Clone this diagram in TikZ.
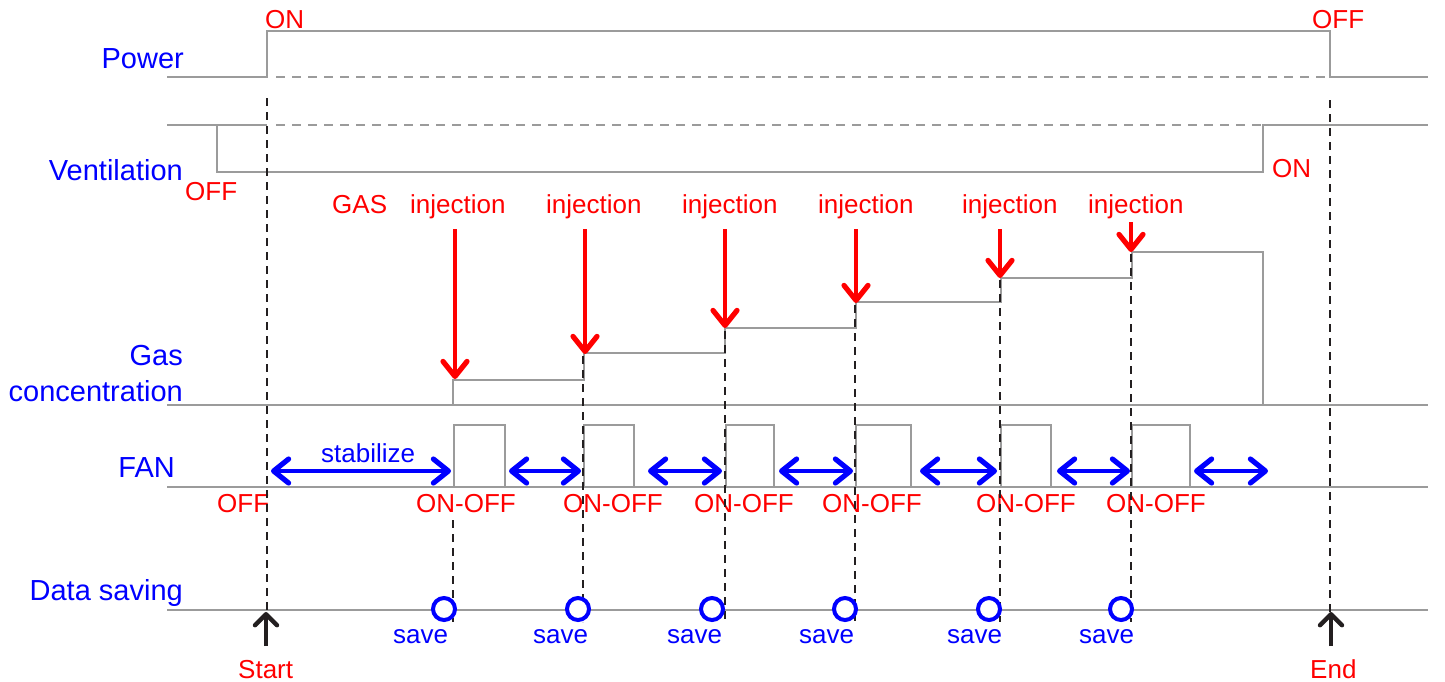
\documentclass[tikz,border=0pt]{standalone}
\usepackage{fontspec}
\setmainfont{Liberation Sans}
\usetikzlibrary{arrows.meta}
\definecolor{wave}{RGB}{155,155,155}
\definecolor{mark}{RGB}{35,31,32}
\definecolor{lblue}{RGB}{0,0,255}
\definecolor{lred}{RGB}{255,0,0}
\tikzset{
  wavel/.style={draw=wave,line width=2pt},
  wavedash/.style={draw=wave,line width=2pt,dash pattern=on 9pt off 7pt},
  guide/.style={draw=mark,line width=2pt,dash pattern=on 8pt off 6pt},
  bluelab/.style={text=lblue,inner sep=0pt,font=\fontsize{29}{34}\selectfont},
  redlab/.style={text=lred,inner sep=0pt,font=\fontsize{26}{30}\selectfont},
  savelab/.style={text=lblue,inner sep=0pt,font=\fontsize{26}{30}\selectfont},
  bigbarb/.tip={Straight Barb[length=15pt,width=24pt,line width=0pt 1.3,round]},
  injarrow/.style={draw=lred,line width=4pt,-bigbarb},
  gaparrow/.style={draw=lblue,line width=4pt,bigbarb-bigbarb},
  markarrow/.style={draw=mark,line width=4pt,-{Straight Barb[length=11pt,width=22pt,line width=0pt 1.1,round]}},
  savedot/.style={draw=lblue,line width=4pt,circle,minimum size=22pt,inner sep=0pt}
}
\begin{document}
\begin{tikzpicture}[x=1pt,y=-1pt]
\useasboundingbox (0,0) rectangle (1445,681);
% ---------- row labels ----------
\node[bluelab,anchor=base east] (lpow) at (184,68) {Power};
\node[bluelab,anchor=base east] (lven) at (183,180) {Ventilation};
\node[bluelab,anchor=base east] (lgas) at (183,365) {Gas};
\node[bluelab,anchor=base east] (lcon) at (183,401) {concentration};
\node[bluelab,anchor=base east] (lfan) at (175,477) {FAN};
\node[bluelab,anchor=base east] (ldat) at (183,600) {Data saving};
% ---------- Power ----------
\draw[wavel] (167,77) -- (267,77) -- (267,31) -- (1330,31) -- (1330,77) -- (1428,77);
\draw[wavedash] (276,77) -- (1326,77);
\node[redlab,anchor=base west] (pon) at (265,28) {ON};
\node[redlab,anchor=base west] (poff) at (1312,28) {OFF};
% ---------- Ventilation ----------
\draw[wavel] (167,125) -- (267,125);
\draw[wavel] (217,125) -- (217,172) -- (1263,172) -- (1263,125) -- (1428,125);
\draw[wavedash] (276,125) -- (1326,125);
\node[redlab,anchor=base west] (voff) at (185,200) {OFF};
\node[redlab,anchor=base west] (von) at (1272,177) {ON};
% ---------- Gas concentration ----------
\draw[wavel] (167,405) -- (1428,405);
\draw[wavel] (453,405) -- (453,380) -- (584,380) -- (584,353) -- (725,353) -- (725,328)
  -- (856,328) -- (856,302) -- (1001,302) -- (1001,278) -- (1132,278) -- (1132,252)
  -- (1263,252) -- (1263,405);
\node[redlab,anchor=base west] (gaslab) at (332,213) {GAS};
\foreach \i/\lx in {1/410,2/546,3/682,4/818,5/962,6/1088}
  \node[redlab,anchor=base west] (inj\i) at (\lx,213) {injection};
\foreach \i/\ax/\ay/\ty in {1/455/229/379,2/585/229/354,3/725/229/328,4/856/229/303,5/1000/229/278,6/1131/222/252}{
  \coordinate (ia\i) at (\ax,\ay);
  \coordinate (ib\i) at (\ax,\ty);
  \draw[injarrow] (ia\i) -- (ib\i);
}
% ---------- FAN ----------
\draw[wavel] (167,487) -- (1428,487);
\foreach \a/\b in {454/505,584/634,726/774,856/911,1001/1051,1132/1190}
  \draw[wavel] (\a,487) -- (\a,425) -- (\b,425) -- (\b,487);
\foreach \i/\a/\b in {1/271/451,2/509/581,3/648/722,4/779/853,5/920/997,6/1057/1130,7/1194/1268}{
  \coordinate (fa\i) at (\a,471);
  \coordinate (fb\i) at (\b,471);
  \draw[gaparrow] (fa\i) -- (fb\i);
}
\node[savelab,anchor=base west] (stab) at (321,462) {stabilize};
\node[redlab,anchor=base west] (foff) at (217,512) {OFF};
\foreach \i/\lx in {1/416,2/563,3/694,4/822,5/976,6/1106}
  \node[redlab,anchor=base west] (onoff\i) at (\lx,512) {ON-OFF};
% ---------- Data saving ----------
\draw[wavel] (167,610) -- (1428,610);
% guide lines
\foreach \i/\gx/\gt/\gb in {1/267/98/612,2/1330/100/612,3/453/520/622,4/583/356/622,5/725/331/622,6/855/305/622,7/1000/280/622,8/1131/254/622}{
  \coordinate (gt\i) at (\gx,\gt);
  \coordinate (gb\i) at (\gx,\gb);
  \draw[guide] (gt\i) -- (gb\i);
}
\foreach \i/\cx/\sx in {1/444/393,2/578/533,3/712/667,4/845/799,5/989/947,6/1121/1079}{
  \node[savedot,fill=white] (sv\i) at (\cx,609) {};
  \node[savelab,anchor=base west] (svl\i) at (\sx,643) {save};
}
% ---------- Start / End ----------
\coordinate (st0) at (266,646);
\coordinate (st1) at (266,612);
\draw[markarrow] (st0) -- (st1);
\coordinate (en0) at (1331,646);
\coordinate (en1) at (1331,612);
\draw[markarrow] (en0) -- (en1);
\node[redlab,anchor=base west] (lstart) at (238,678) {Start};
\node[redlab,anchor=base west] (lend) at (1310,678) {End};
\end{tikzpicture}
\end{document}
